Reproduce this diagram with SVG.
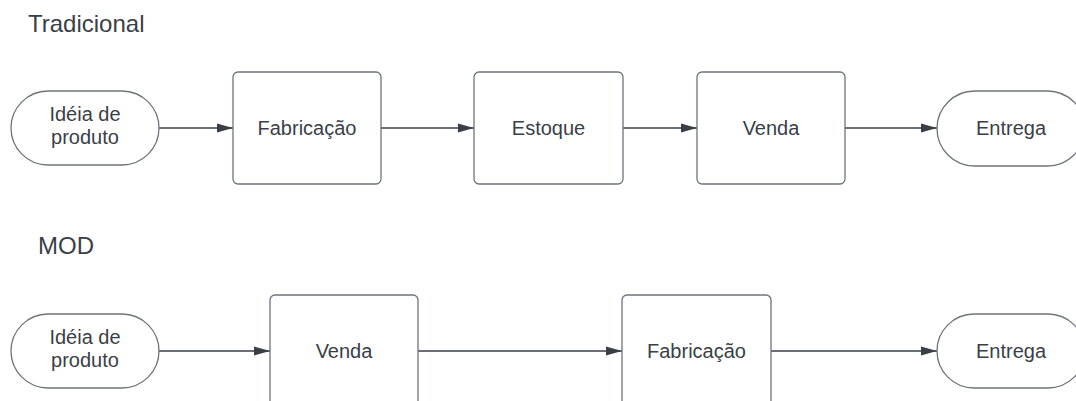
<svg xmlns="http://www.w3.org/2000/svg" width="1076" height="401" viewBox="0 0 1076 401">
  <style>
    .box { fill: #ffffff; stroke: #6f737a; stroke-width: 1.3; }
    .lbl { font-family: "Liberation Sans", Arial, sans-serif; font-size: 20px; fill: #3a3f47; text-anchor: middle; }
    .title { font-family: "Liberation Sans", Arial, sans-serif; font-size: 24px; fill: #3a3f47; }
    .edge { fill: none; stroke: #3a3f47; stroke-width: 1.3; marker-end: url(#arrow); }
  </style>
  <defs>
    <marker id="arrow" viewBox="0 0 16 10" refX="16" refY="5" markerWidth="16" markerHeight="10" markerUnits="userSpaceOnUse" orient="auto">
      <path d="M0,0.5 L16,5 L0,9.5 Z" fill="#3a3f47"/>
    </marker>
  </defs>
  <rect width="1076" height="401" fill="#ffffff"/>

  <text class="title" x="28" y="32">Tradicional</text>
  <text class="title" x="38" y="254">MOD</text>

  <!-- connectors -->
  <g id="connectors">
    <line class="edge" x1="159" y1="128" x2="233" y2="128"/>
    <line class="edge" x1="381" y1="128" x2="474" y2="128"/>
    <line class="edge" x1="623" y1="128" x2="697" y2="128"/>
    <line class="edge" x1="845" y1="128" x2="937" y2="128"/>
    <line class="edge" x1="159" y1="351" x2="270" y2="351"/>
    <line class="edge" x1="418" y1="351" x2="622" y2="351"/>
    <line class="edge" x1="771" y1="351" x2="937" y2="351"/>
  </g>

  <!-- traditional flow -->
  <g id="t-ideia">
    <rect class="box" x="11" y="91" width="148" height="74" rx="37"/>
    <text class="lbl" x="85" y="121">Idéia de</text>
    <text class="lbl" x="85" y="144">produto</text>
  </g>
  <g id="t-fabricacao">
    <rect class="box" x="233" y="72" width="148" height="112" rx="5"/>
    <text class="lbl" x="307" y="135">Fabricação</text>
  </g>
  <g id="t-estoque">
    <rect class="box" x="474" y="72" width="149" height="112" rx="5"/>
    <text class="lbl" x="548.5" y="135">Estoque</text>
  </g>
  <g id="t-venda">
    <rect class="box" x="697" y="72" width="148" height="112" rx="5"/>
    <text class="lbl" x="771" y="135">Venda</text>
  </g>
  <g id="t-entrega">
    <rect class="box" x="937" y="91" width="148" height="75" rx="37.5"/>
    <text class="lbl" x="1011" y="135">Entrega</text>
  </g>

  <!-- make-on-demand flow -->
  <g id="m-ideia">
    <rect class="box" x="11" y="314" width="148" height="74" rx="37"/>
    <text class="lbl" x="85" y="344">Idéia de</text>
    <text class="lbl" x="85" y="367">produto</text>
  </g>
  <g id="m-venda">
    <rect class="box" x="270" y="295" width="148" height="112" rx="5"/>
    <text class="lbl" x="344" y="358">Venda</text>
  </g>
  <g id="m-fabricacao">
    <rect class="box" x="622" y="295" width="149" height="112" rx="5"/>
    <text class="lbl" x="696.5" y="358">Fabricação</text>
  </g>
  <g id="m-entrega">
    <rect class="box" x="937" y="314" width="148" height="74" rx="37"/>
    <text class="lbl" x="1011" y="358">Entrega</text>
  </g>
</svg>
